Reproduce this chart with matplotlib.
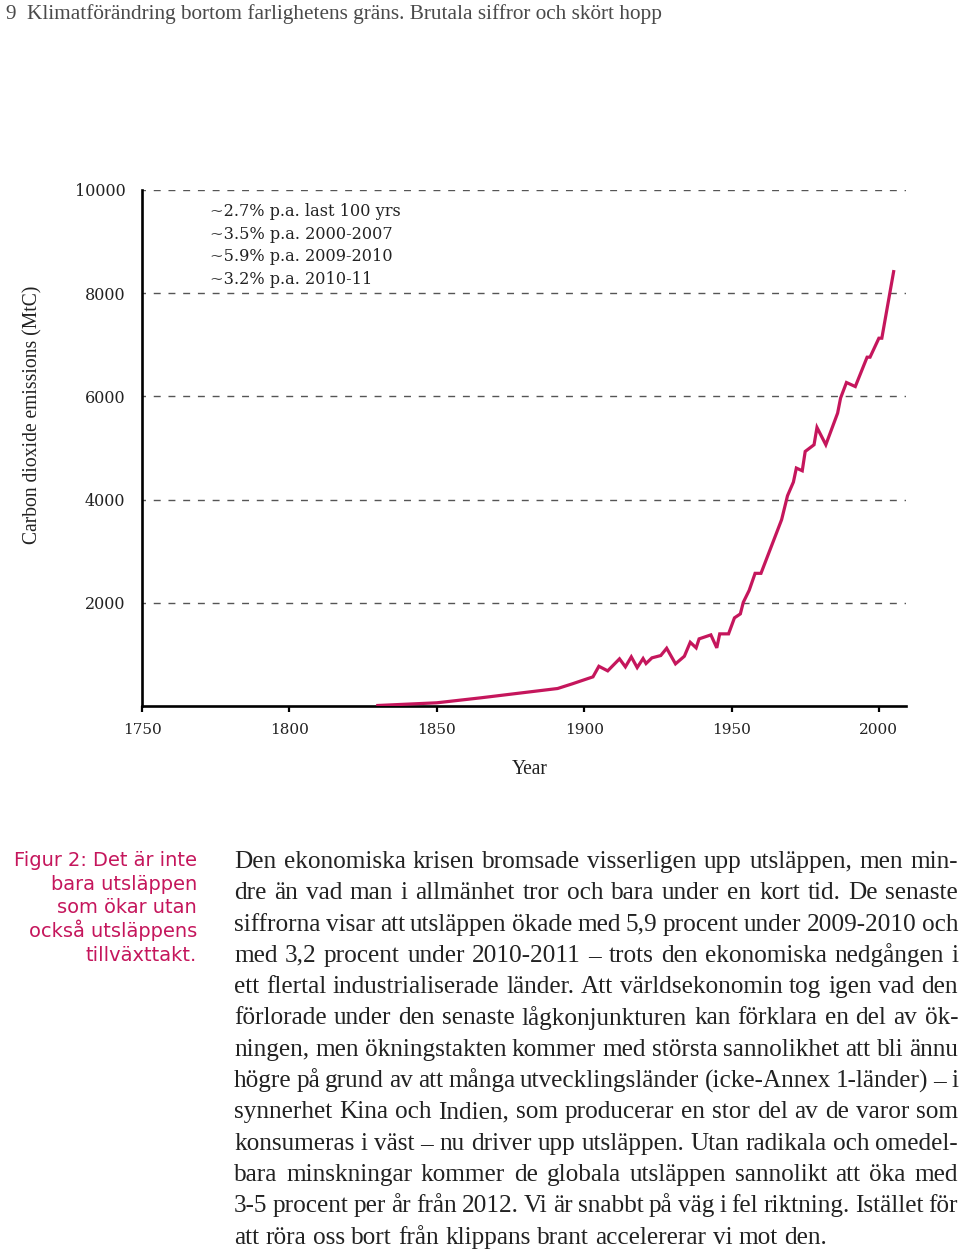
import matplotlib
matplotlib.use('Agg')
import matplotlib.pyplot as plt
from matplotlib.font_manager import FontProperties

# ---------------- data ----------------
years = [1830, 1850, 1865, 1879, 1891, 1896, 1903, 1905, 1908, 1912, 1914, 1916,
         1918, 1920, 1921, 1923, 1926, 1928, 1931, 1934, 1936, 1938, 1939, 1943,
         1945, 1946, 1949, 1951, 1953, 1954, 1956, 1958, 1960, 1967, 1969, 1971,
         1972, 1974, 1975, 1978, 1979, 1982, 1986, 1987, 1989, 1992, 1996, 1997,
         2000, 2001, 2005]
emissions = [10, 62, 159, 256, 339, 430, 565, 770, 681, 914, 759, 952,
             745, 920, 823, 933, 978, 1119, 817, 964, 1235, 1127, 1301, 1378,
             1127, 1398, 1398, 1708, 1785, 2010, 2242, 2571, 2571, 3611, 4075, 4340,
             4611, 4559, 4933, 5063, 5398, 5063, 5676, 5967, 6269, 6191, 6760, 6760,
             7128, 7128, 8418]

x_ticks = [1750, 1800, 1850, 1900, 1950, 2000]
y_ticks = [2000, 4000, 6000, 8000, 10000]

rate_notes = ["~2.7% p.a. last 100 yrs",
              "~3.5% p.a. 2000-2007",
              "~5.9% p.a. 2009-2010",
              "~3.2% p.a. 2010-11"]

page_number = "9"
header = "Klimatförändring bortom farlighetens gräns. Brutala siffror och skört hopp"
y_label = "Carbon dioxide emissions (MtC)"
x_label = "Year"

caption_lines = ["Figur 2: Det är inte",
                 "bara utsläppen",
                 "som ökar utan",
                 "också utsläppens",
                 "tillväxttakt."]

body_lines = [
    "Den ekonomiska krisen bromsade visserligen upp utsläppen, men min-",
    "dre än vad man i allmänhet tror och bara under en kort tid. De senaste",
    "siffrorna visar att utsläppen ökade med 5,9 procent under 2009-2010 och",
    "med 3,2 procent under 2010-2011 – trots den ekonomiska nedgången i",
    "ett flertal industrialiserade länder. Att världsekonomin tog igen vad den",
    "förlorade under den senaste lågkonjunkturen kan förklara en del av ök-",
    "ningen, men ökningstakten kommer med största sannolikhet att bli ännu",
    "högre på grund av att många utvecklingsländer (icke-Annex 1-länder) – i",
    "synnerhet Kina och Indien, som producerar en stor del av de varor som",
    "konsumeras i väst – nu driver upp utsläppen. Utan radikala och omedel-",
    "bara minskningar kommer de globala utsläppen sannolikt att öka med",
    "3-5 procent per år från 2012. Vi är snabbt på väg i fel riktning. Istället för",
    "att röra oss bort från klippans brant accelererar vi mot den.",
]

# ---------------- styling ----------------
MAGENTA = '#c5165c'
GRAY = '#4a4a4a'
TEXT = '#222222'
W, H = 960, 1251

fig = plt.figure(figsize=(W / 100, H / 100), dpi=100)
fig.patch.set_facecolor('white')
renderer = fig.canvas.get_renderer()


def px_w(s, fp):
    return renderer.get_text_width_height_descent(s, fp, ismath=False)[0]


def fitted(s, family, target, **kw):
    fp = FontProperties(family=family, size=10, **kw)
    return FontProperties(family=family, size=10 * target / px_w(s, fp), **kw)


def fx(x):
    return x / W


def fy(y):
    return 1 - y / H


# ---------------- chart ----------------
ax = fig.add_axes([142 / W, 1 - 706 / H, 764 / W, 516 / H])
ax.set_xlim(1750, 2009.2)
ax.set_ylim(0, 10000)

for v in y_ticks:
    ax.axhline(v, color='#555555', lw=1.0, linestyle=(2.5, (5.0, 5.6)), zorder=1)

ax.plot(years, emissions, color=MAGENTA, lw=2.3, solid_joinstyle='miter', zorder=3)

for s in ['top', 'right']:
    ax.spines[s].set_visible(False)
for s in ['left', 'bottom']:
    ax.spines[s].set_linewidth(1.9)
    ax.spines[s].set_color('black')

xtick_fp = FontProperties(family='DejaVu Serif', size=11)
ytick_fp = FontProperties(family='DejaVu Serif', size=11.5)
ax.set_xticks(x_ticks)
ax.set_xticklabels([str(t) for t in x_ticks], fontproperties=xtick_fp, color=TEXT)
ax.set_yticks(y_ticks)
ax.set_yticklabels([str(t) for t in y_ticks], fontproperties=ytick_fp, color=TEXT)
ax.tick_params(axis='x', direction='out', length=4.5, width=1.6, pad=7.5)
ax.tick_params(axis='y', length=0, pad=12)

note_fp = fitted(rate_notes[0], 'DejaVu Serif', 190)
for i, note in enumerate(rate_notes):
    fig.text(fx(210), fy(216 + i * 22.7), note, fontproperties=note_fp,
             color=TEXT, ha='left', va='baseline')

ylab_fp = fitted(y_label, 'Liberation Serif', 258)
fig.text(fx(33), fy(415), y_label, fontproperties=ylab_fp, rotation=90,
         ha='center', va='center', color=TEXT)

xlab_fp = fitted(x_label, 'Liberation Serif', 36)
fig.text(fx(530), fy(769), x_label, fontproperties=xlab_fp,
         ha='center', va='center', color=TEXT)

# ---------------- header ----------------
head_fp = fitted(header, 'Liberation Serif', 635)
fig.text(fx(5), fy(19), page_number, fontproperties=head_fp, color=GRAY,
         ha='left', va='baseline')
fig.text(fx(27), fy(19), header, fontproperties=head_fp, color=GRAY,
         ha='left', va='baseline')

# ---------------- caption ----------------
cap_fp = fitted(caption_lines[0], 'DejaVu Sans', 183)
for i, line in enumerate(caption_lines):
    fig.text(fx(197), fy(866 + i * 23.7), line, fontproperties=cap_fp,
             color=MAGENTA, ha='right', va='baseline')

# ---------------- justified body text ----------------
left, right = 234, 958
base_fp = FontProperties(family='Liberation Serif', size=10)
sp10 = px_w('a a', base_fp) - px_w('aa', base_fp)
natural = max(sum(px_w(w, base_fp) for w in ln.split(' ')) + 0.75 * sp10 * (len(ln.split(' ')) - 1)
              for ln in body_lines)
body_fp = FontProperties(family='Liberation Serif', size=10 * (right - left) / natural)
space = px_w('a a', body_fp) - px_w('aa', body_fp)

for i, line in enumerate(body_lines):
    words = line.split(' ')
    widths = [px_w(w, body_fp) for w in words]
    base = 868 + i * 31.3
    if i == len(body_lines) - 1:
        gap = space
    else:
        gap = (right - left - sum(widths)) / (len(words) - 1)
    x = left
    for w, wd in zip(words, widths):
        fig.text(fx(x), fy(base), w, fontproperties=body_fp, color=TEXT,
                 ha='left', va='baseline')
        x += wd + gap

fig.savefig('out.png', dpi=100, facecolor='white')
